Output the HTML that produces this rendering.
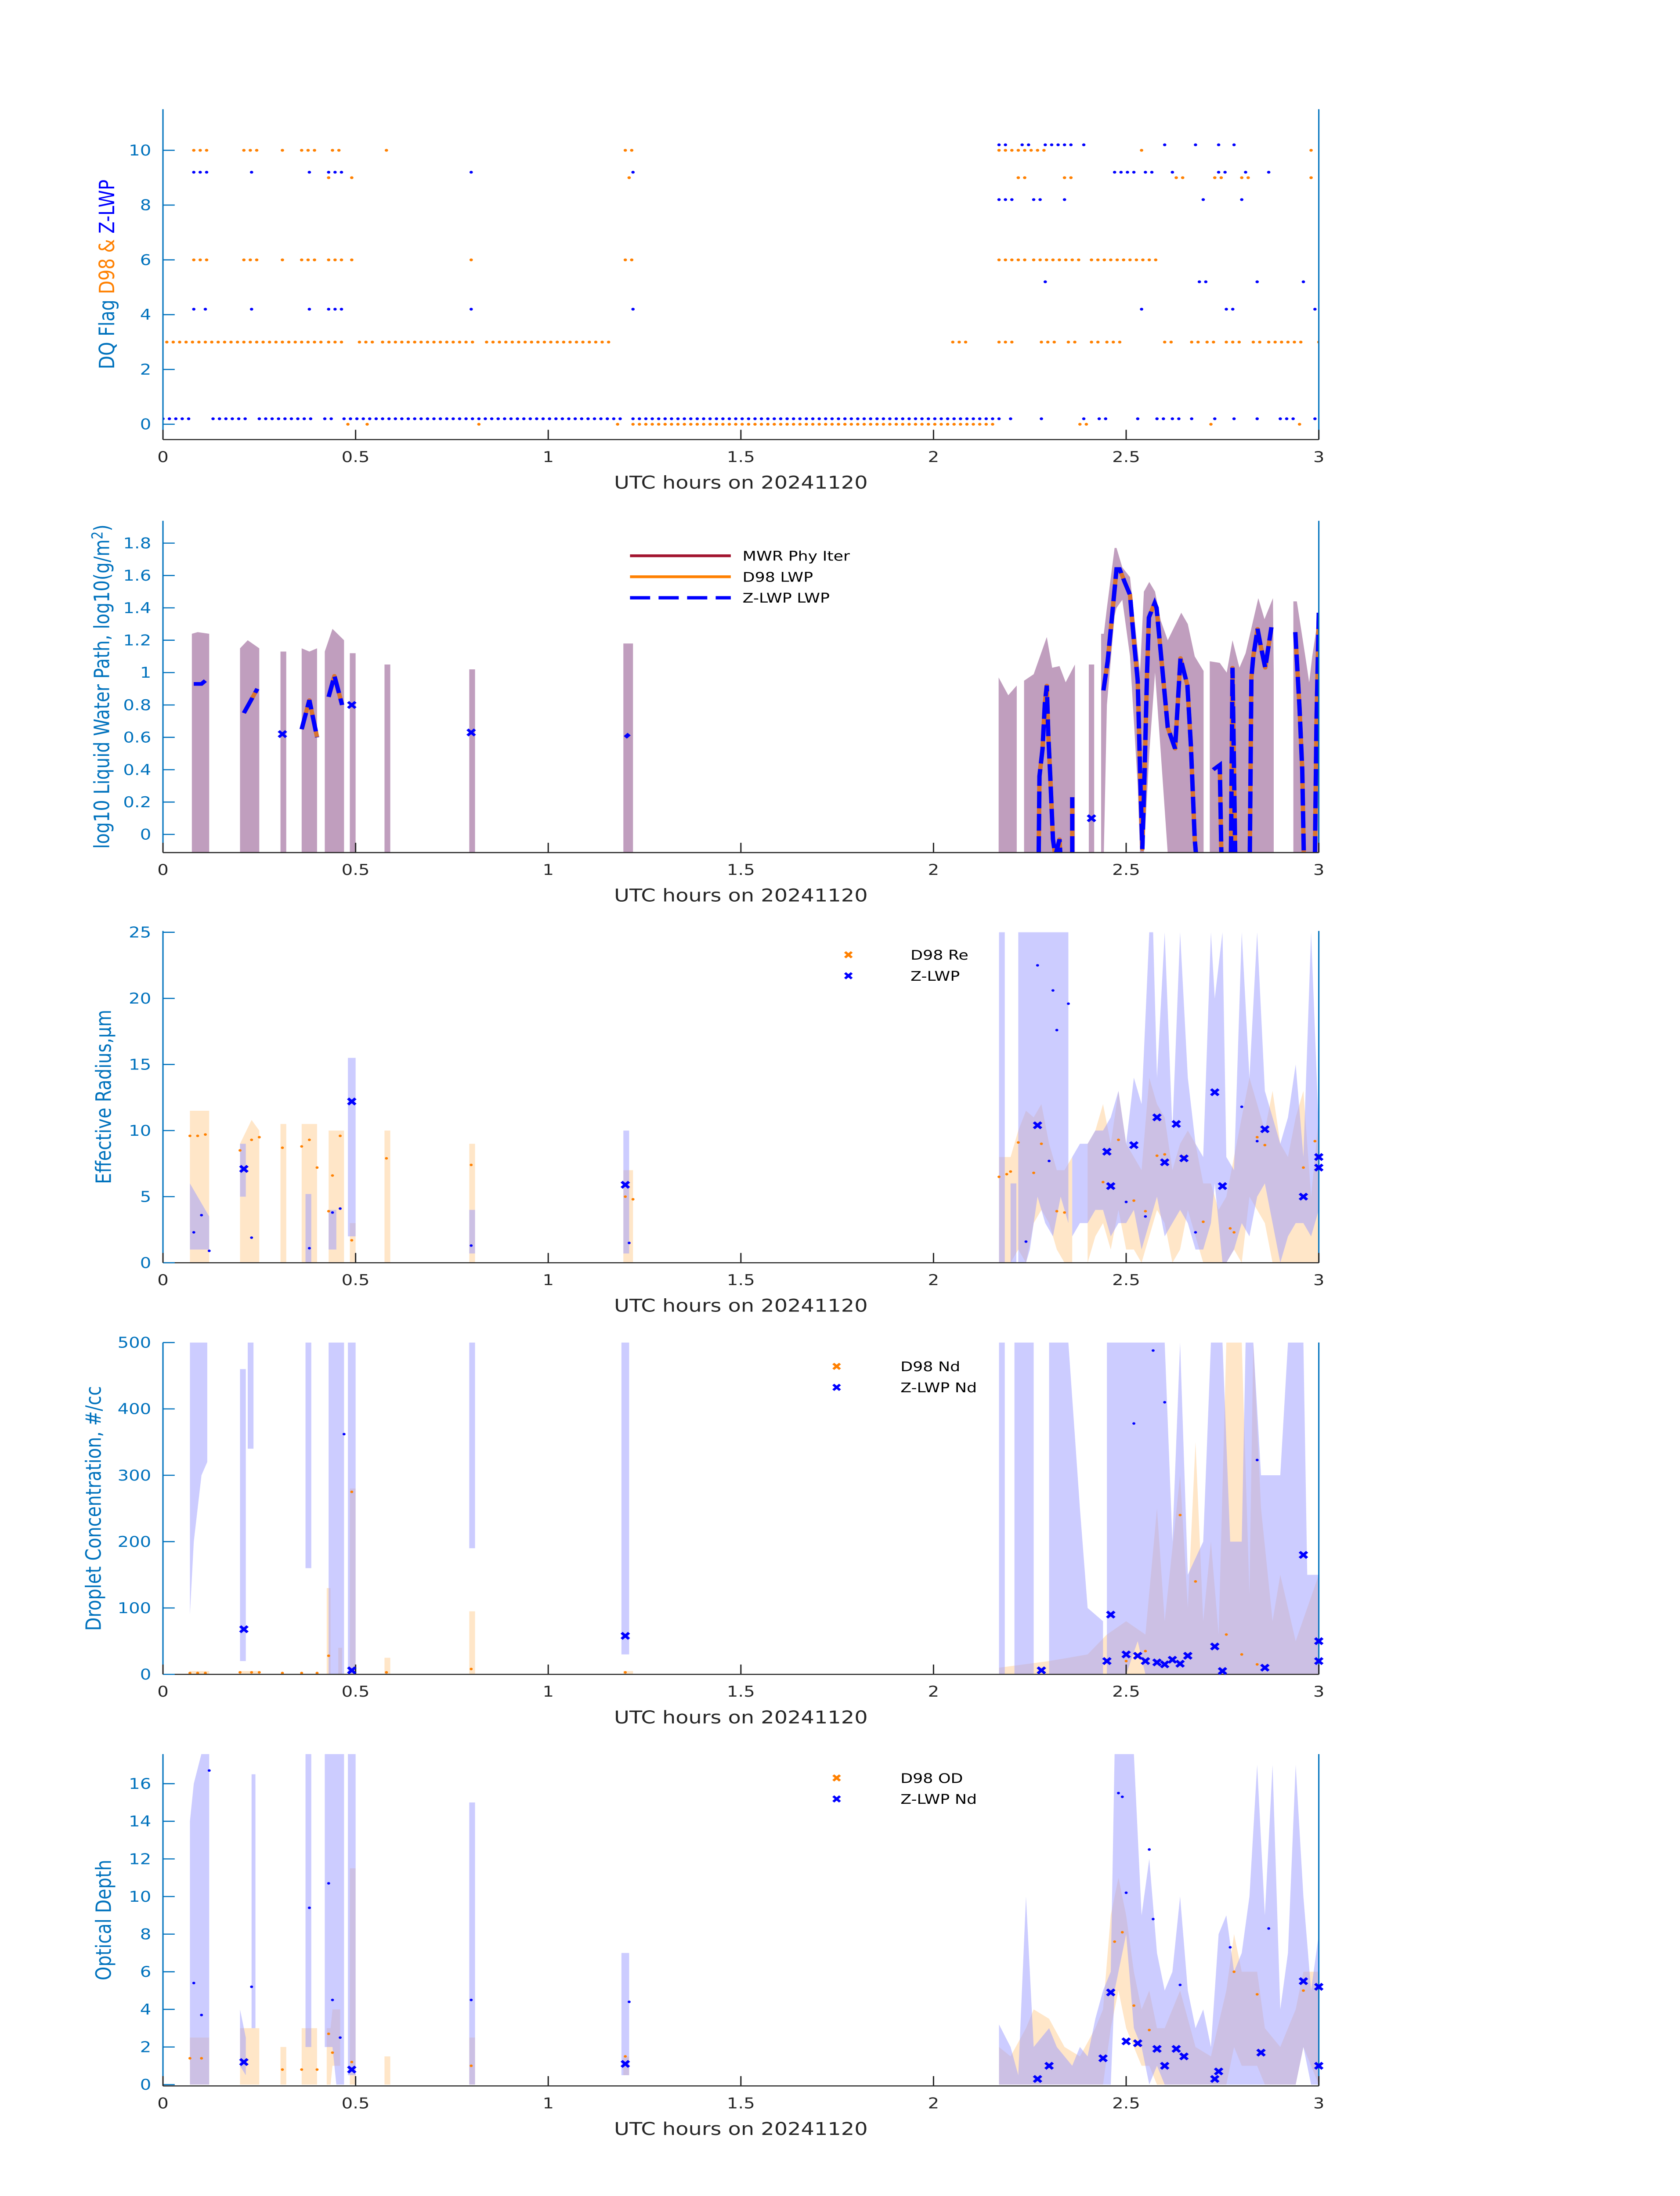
<!DOCTYPE html>
<html><head><meta charset="utf-8">
<style>
html,body{margin:0;padding:0;background:#fff;width:100%;height:100%;overflow:hidden;}
svg{display:block;width:100vw;height:100vh;font-family:"DejaVu Sans","Liberation Sans",sans-serif;}
</style></head>
<body>
<svg id="fig" viewBox="0 0 1000 1568.63" preserveAspectRatio="none" xmlns="http://www.w3.org/2000/svg">
<rect x="0" y="0" width="1000" height="1568.63" fill="#fff"/>
</svg>
<script>
// ---------- DATA ----------
const d98FlagRuns = [[0.01,0.41,3],[0.43,0.46,3],[0.51,0.54,3],[0.57,0.81,3],[0.84,1.16,3],
 [2.05,2.08,3],[2.17,2.21,3],[2.28,2.31,3],[2.35,2.37,3],[2.41,2.42,3],[2.45,2.49,3],[2.6,2.61,3],[2.67,2.69,3],[2.71,2.72,3],[2.76,2.8,3],[2.83,2.84,3],[2.87,2.96,3],[3.0,3.0,3],
 [0.48,0.48,0],[0.53,0.53,0],[0.82,0.82,0],[1.18,1.18,0],[1.22,2.16,0],[2.38,2.39,0],[2.72,2.72,0],[2.95,2.95,0],
 [0.08,0.11,10],[0.21,0.25,10],[0.31,0.31,10],[0.36,0.4,10],[0.44,0.46,10],[0.58,0.58,10],[1.2,1.21,10],[2.17,2.28,10],[2.54,2.54,10],[2.98,2.98,10],
 [0.43,0.43,9],[0.49,0.49,9],[1.21,1.21,9],[2.22,2.23,9],[2.34,2.35,9],[2.63,2.65,9],[2.73,2.75,9],[2.8,2.82,9],[2.98,2.98,9],
 [0.08,0.11,6],[0.21,0.25,6],[0.31,0.31,6],[0.36,0.4,6],[0.43,0.46,6],[0.49,0.49,6],[0.8,0.8,6],[1.2,1.21,6],[2.17,2.23,6],[2.26,2.38,6],[2.41,2.57,6]];
const zlwpFlagRuns = [[0.0,0.06,0.2],[0.13,0.22,0.2],[0.25,0.39,0.2],[0.42,0.44,0.2],[0.47,0.8,0.2],[0.82,1.18,0.2],[1.22,2.17,0.2],[2.2,2.2,0.2],[2.28,2.28,0.2],[2.39,2.39,0.2],[2.43,2.45,0.2],[2.53,2.53,0.2],[2.58,2.59,0.2],[2.62,2.64,0.2],[2.67,2.67,0.2],[2.73,2.73,0.2],[2.78,2.78,0.2],[2.84,2.84,0.2],[2.9,2.94,0.2],[2.99,3.0,0.2],
 [0.08,0.11,9.2],[0.23,0.23,9.2],[0.38,0.38,9.2],[0.43,0.46,9.2],[0.8,0.8,9.2],[1.22,1.22,9.2],[2.47,2.52,9.2],[2.55,2.57,9.2],[2.62,2.62,9.2],[2.74,2.76,9.2],[2.81,2.81,9.2],[2.87,2.87,9.2],
 [0.08,0.08,4.2],[0.11,0.11,4.2],[0.23,0.23,4.2],[0.38,0.38,4.2],[0.43,0.46,4.2],[0.8,0.8,4.2],[1.22,1.22,4.2],[2.54,2.54,4.2],[2.76,2.77,4.2],[2.99,2.99,4.2],
 [2.17,2.19,10.2],[2.23,2.24,10.2],[2.29,2.35,10.2],[2.39,2.39,10.2],[2.6,2.6,10.2],[2.68,2.68,10.2],[2.74,2.74,10.2],[2.78,2.78,10.2],
 [2.17,2.21,8.2],[2.26,2.28,8.2],[2.34,2.34,8.2],[2.7,2.7,8.2],[2.8,2.8,8.2],
 [2.29,2.29,5.2],[2.69,2.7,5.2],[2.84,2.84,5.2],[2.96,2.96,5.2]];

const lwpTimes = [0.08,0.10,0.11,null,0.21,0.245,null,0.36,0.38,0.40,null,0.43,0.445,0.465,null,1.2,1.21,null,
 2.273,2.275,2.283,2.289,2.294,2.298,2.303,2.310,2.315,null,2.318,2.327,2.329,null,2.360,2.360,null,
 2.441,2.452,2.463,2.475,2.483,2.496,2.510,2.520,2.530,2.536,2.542,2.548,2.554,2.559,2.574,2.579,2.590,2.601,2.608,2.627,2.641,2.659,2.668,2.678,2.681,null,
 2.726,2.743,2.747,null,2.772,2.776,2.779,2.783,null,2.821,2.825,2.830,2.841,2.848,2.861,2.877,null,2.939,2.950,2.957,2.961,null,2.990,2.994,3.0];
const lwpValues = [0.93,0.93,0.95,null,0.75,0.9,null,0.65,0.83,0.6,null,0.85,0.98,0.8,null,0.6,0.62,null,
 -0.115,0.36,0.53,0.81,0.92,0.61,0.36,-0.03,-0.115,null,-0.115,-0.03,-0.115,null,-0.115,0.23,null,
 0.89,1.07,1.34,1.64,1.64,1.56,1.48,1.20,0.95,0.40,-0.09,0.40,0.98,1.34,1.43,1.40,1.12,0.84,0.66,0.53,1.09,0.92,0.55,-0.03,-0.115,null,
 0.40,0.43,-0.115,null,-0.115,1.03,0.55,-0.115,null,-0.115,0.97,1.10,1.27,1.18,1.03,1.28,null,1.25,0.78,0.40,-0.115,null,-0.115,0.69,1.37];
const lwpMarkT = [0.31,0.49,0.80,2.41];
const lwpMarkV = [0.62,0.80,0.63,0.10];
const lwpBand = [[0.075,-0.12,1.24],[0.09,-0.12,1.25],[0.12,-0.12,1.24],null,[0.2,-0.12,1.15],[0.22,-0.12,1.2],[0.25,-0.12,1.15],null,
 [0.305,-0.12,1.13],[0.32,-0.12,1.13],null,[0.36,-0.12,1.15],[0.38,-0.12,1.13],[0.40,-0.12,1.15],null,[0.42,-0.12,1.13],[0.44,-0.12,1.27],[0.47,-0.12,1.2],null,
 [0.485,-0.12,1.12],[0.50,-0.12,1.12],null,[0.575,-0.12,1.05],[0.59,-0.12,1.05],null,[0.795,-0.12,1.02],[0.81,-0.12,1.02],null,[1.195,-0.12,1.18],[1.22,-0.12,1.18],null,
 [2.169,-0.12,0.97],[2.194,-0.12,0.86],[2.216,-0.12,0.92],null,
 [2.235,-0.12,0.95],[2.26,-0.12,0.99],[2.294,-0.12,1.22],[2.308,-0.12,1.03],[2.327,-0.12,1.04],[2.343,-0.12,0.94],[2.367,-0.12,1.05],null,
 [2.403,-0.12,1.05],[2.417,-0.12,1.05],null,
 [2.435,-0.12,1.24],[2.442,-0.12,1.24],[2.450,0.8,1.4],[2.47,1.35,1.77],[2.475,1.4,1.77],[2.49,1.45,1.65],[2.51,1.1,1.59],[2.53,0.3,1.14],[2.536,-0.12,1.0],[2.546,-0.12,1.5],[2.56,0.5,1.56],[2.575,1.0,1.5],[2.59,0.5,1.32],[2.608,-0.12,1.2],[2.643,-0.12,1.37],[2.66,-0.12,1.30],[2.678,-0.12,1.10],[2.701,-0.12,1.01],null,
 [2.717,-0.12,1.07],[2.743,-0.12,1.06],[2.761,-0.12,1.0],[2.776,-0.12,1.20],[2.794,-0.12,1.03],[2.810,-0.12,1.12],[2.843,-0.12,1.46],[2.859,-0.12,1.33],[2.881,-0.12,1.46],[2.883,-0.12,1.0],null,
 [2.934,-0.12,1.44],[2.943,-0.12,1.44],[2.965,-0.12,1.10],[2.975,-0.12,0.94],[2.983,-0.12,1.10],[3.0,-0.12,1.37]];

const reOrangeBand = [[0.07,0,11.5],[0.12,0,11.5],null,[0.2,0,9],[0.23,0,10.8],[0.25,0,10],null,[0.305,0,10.5],[0.32,0,10.5],null,[0.36,0,10.5],[0.40,0,10.5],null,[0.43,0,10],[0.47,0,10],null,[0.485,0,3],[0.50,0,3],null,[0.575,0,10],[0.59,0,10],null,[0.795,0,9],[0.81,0,9],null,[1.195,0,7],[1.22,0,7],null,
 [2.17,0,8],[2.2,0,8],[2.22,1,10],[2.24,0,11.5],[2.26,3,11],[2.28,4,12],[2.3,3,9],[2.32,1,7],[2.34,0,7],[2.36,0,8],null,[2.4,0,9],[2.42,2,10],[2.44,3,12],[2.46,1,9],[2.48,4,13],[2.5,1,9],[2.52,1,8],[2.54,0,7],[2.56,2,14],[2.58,4,12],[2.6,3,11],[2.62,0,7],[2.64,1,9],[2.66,4,10],[2.68,2,9],[2.7,0,6],[2.72,0,6],[2.74,0,4],[2.76,0,5],[2.78,1,8],[2.8,0,11],[2.82,5,14],[2.84,4,12],[2.86,3,10],[2.88,0,13],[2.9,0,9],[2.92,0,8],[2.94,0,11],[2.96,0,13],[2.98,0,5],[3.0,0,11]];
const reBlueBand = [[0.07,1,6],[0.12,1,3.5],null,[0.2,5,9],[0.215,5,9],null,[0.37,0,5.2],[0.385,0,5.2],null,[0.43,1,4],[0.45,1,4],null,[0.48,2,15.5],[0.50,2,15.5],null,[0.795,0.7,4],[0.81,0.7,4],null,[1.195,0.7,10],[1.21,0.7,10],null,
 [2.17,0,25],[2.185,0,25],null,[2.2,0,6],[2.215,0,6],null,[2.22,0,25],[2.24,0,25],[2.25,1,25],[2.27,5,25],[2.29,3,25],[2.31,2,25],[2.33,5,25],[2.35,3,25],null,
 [2.36,2,8],[2.38,3,9],[2.4,3,9],[2.42,4,10],[2.44,4,10],[2.46,2,11],[2.48,3,13],[2.5,3,9],[2.52,4,14],[2.54,1,12],[2.56,3,25],[2.57,4,25],[2.58,5,14],[2.6,2,25],[2.62,3,10],[2.64,4,25],[2.66,3,14],[2.68,1,9],[2.7,1,8],[2.72,3,25],[2.73,6,20],[2.75,0,25],[2.76,0,8],[2.78,1,7],[2.8,3,25],[2.82,2,14],[2.84,5,25],[2.86,6,13],[2.88,3,11],[2.9,0,9],[2.92,2,11],[2.94,3,15],[2.96,3,8],[2.98,2,25],[3.0,4,10]];
const reZT = [0.21,0.49,1.2,2.27,2.45,2.46,2.52,2.58,2.60,2.63,2.65,2.73,2.75,2.86,2.96,3.0,3.0];
const reZV = [7.1,12.2,5.9,10.4,8.4,5.8,8.9,11.0,7.6,10.5,7.9,12.9,5.8,10.1,5.0,7.2,8.0];
const reZdotT = [0.08,0.10,0.12,0.23,0.38,0.44,0.46,0.8,1.21,2.27,2.31,2.32,2.35,2.24,2.3,2.5,2.55,2.68,2.8,2.84];
const reZdotV = [2.3,3.6,0.9,1.9,1.1,3.8,4.1,1.3,1.5,22.5,20.6,17.6,19.6,1.6,7.7,4.6,3.5,2.3,11.8,9.2];
const reDT = [0.07,0.09,0.11,0.2,0.23,0.25,0.31,0.36,0.38,0.4,0.43,0.44,0.46,0.49,0.58,0.8,1.2,1.22,2.17,2.19,2.2,2.22,2.26,2.28,2.32,2.34,2.44,2.48,2.52,2.55,2.58,2.6,2.65,2.7,2.77,2.78,2.84,2.86,2.96,2.99];
const reDV = [9.6,9.6,9.7,8.5,9.3,9.5,8.7,8.8,9.3,7.2,3.9,6.6,9.6,1.7,7.9,7.4,5.0,4.8,6.5,6.7,6.9,9.1,6.8,9.0,3.9,3.8,6.1,9.3,4.7,3.9,8.1,8.2,8.0,3.1,2.6,2.3,9.5,8.9,7.2,9.2];

const ndOrangeBand = [[0.07,0,5],[0.12,0,5],null,[0.2,0,5],[0.25,0,5],null,[0.425,0,130],[0.435,0,130],null,[0.455,0,40],[0.465,0,40],null,[0.485,0,280],[0.50,0,280],null,[0.575,0,25],[0.59,0,25],null,[0.795,0,95],[0.81,0,95],null,[1.195,0,5],[1.22,0,5],null,
 [2.17,0,10],[2.3,0,20],[2.4,0,30],[2.45,0,60],[2.5,0,80],[2.55,0,60],[2.58,0,250],[2.6,0,80],[2.64,0,300],[2.66,0,100],[2.68,0,350],[2.7,0,80],[2.72,0,200],[2.74,0,60],[2.76,0,500],[2.8,0,500],[2.82,0,120],[2.83,0,500],[2.85,0,250],[2.88,0,80],[2.9,0,150],[2.94,0,50],[2.97,0,100],[3.0,0,150]];
const ndBlueBand = [[0.07,90,500],[0.08,200,500],[0.10,300,500],[0.115,320,500],null,[0.2,20,460],[0.215,20,460],null,[0.22,340,500],[0.235,340,500],null,[0.37,160,500],[0.385,160,500],null,[0.43,0,500],[0.47,0,500],null,[0.48,0,500],[0.50,0,500],null,[0.795,190,500],[0.81,190,500],null,[1.19,30,500],[1.21,30,500],null,
 [2.17,0,500],[2.185,0,500],null,[2.21,0,500],[2.26,0,500],null,[2.3,0,500],[2.35,0,500],[2.38,0,250],[2.4,0,100],[2.44,0,80],null,[2.45,0,500],[2.5,0,500],[2.53,50,500],[2.55,0,500],[2.57,0,500],[2.6,0,500],[2.62,0,200],[2.64,0,500],[2.66,0,150],[2.7,0,200],[2.72,0,500],[2.75,0,500],[2.77,0,200],[2.8,0,200],[2.81,0,500],[2.83,0,500],[2.85,0,300],[2.9,0,300],[2.92,0,500],[2.96,0,500],[2.97,0,150],[3.0,0,150]];
const ndZT = [0.21,0.49,1.2,2.28,2.45,2.46,2.5,2.53,2.55,2.58,2.6,2.62,2.64,2.66,2.73,2.75,2.86,2.96,3.0,3.0];
const ndZV = [68,6,58,6,20,90,30,28,20,18,15,22,16,28,42,5,10,180,50,20];
const ndZdotT = [0.47,2.52,2.57,2.6,2.84];
const ndZdotV = [362,378,488,410,323];
const ndDT = [0.07,0.09,0.11,0.2,0.23,0.25,0.31,0.36,0.4,0.43,0.49,0.58,0.8,1.2,2.5,2.55,2.64,2.68,2.76,2.8,2.84];
const ndDV = [2,2,2,3,3,3,2,2,2,28,275,3,8,3,20,35,240,140,60,30,15];

const odOrangeBand = [[0.07,0,2.5],[0.12,0,2.5],null,[0.2,0,3],[0.25,0,3],null,[0.305,0,2],[0.32,0,2],null,[0.36,0,3],[0.40,0,3],null,[0.425,0,3],[0.435,0,3],[0.44,1,4],[0.46,1,4],null,[0.485,0,11.5],[0.50,0,11.5],null,[0.575,0,1.5],[0.59,0,1.5],null,[0.795,0,2.5],[0.81,0,2.5],null,[1.195,0.5,1.5],[1.21,0.5,1.5],null,
 [2.17,0,2],[2.2,0,1.5],[2.24,0,3],[2.26,0,4],[2.3,0,3.5],[2.34,0,2],[2.38,0,1.5],[2.42,0,3],[2.44,0,4],[2.46,3,9],[2.48,5,11],[2.5,3,9],[2.52,2,6],[2.54,1,4],[2.56,1,5],[2.58,0,3],[2.6,0,3],[2.64,0,5],[2.68,0,2],[2.72,0,1.5],[2.76,0,5],[2.78,2,8],[2.8,1,6],[2.84,1,6],[2.86,0,3],[2.9,0,2],[2.94,0,4],[2.96,2,6],[3.0,0,6]];
const odBlueBand = [[0.07,0,14],[0.08,0,16],[0.1,0,17.6],[0.12,0,17.6],null,[0.2,1,4],[0.215,0.5,2.5],null,[0.23,3,16.5],[0.24,3,16.5],null,[0.37,2,17.6],[0.385,2,17.6],null,[0.42,2,17.6],[0.44,2,17.6],[0.45,0,17.6],[0.47,0,17.6],null,[0.48,0.5,17.6],[0.50,0.5,17.6],null,[0.795,0,15],[0.81,0,15],null,[1.19,0.5,7],[1.21,0.5,7],null,
 [2.17,0,3.2],[2.2,0,2],[2.22,0,0.5],[2.24,0,10],[2.26,0,2],[2.28,0,2.5],[2.3,0,3],[2.32,0,2],[2.34,0,1.5],[2.36,0,1],[2.38,0,2],[2.4,0,1.5],[2.42,0,3.5],[2.44,0,5],[2.46,0,6],[2.47,5,17.6],[2.5,8,17.6],[2.52,3,17.6],[2.54,2,9],[2.56,0,12],[2.58,1,7],[2.6,0,5],[2.62,0,6],[2.64,0,10],[2.66,0,5],[2.68,0,3],[2.7,0,4],[2.72,0,2],[2.74,0,8],[2.76,0,9],[2.78,0,6],[2.8,0,7],[2.82,0,10],[2.84,0,17],[2.86,0,9],[2.88,0,17],[2.9,0,4],[2.92,0,7],[2.94,0,17],[2.96,2,10],[2.98,0,5],[3.0,0,8]];
const odZT = [0.21,0.49,1.2,2.27,2.3,2.44,2.46,2.5,2.53,2.58,2.6,2.63,2.65,2.73,2.74,2.85,2.96,3.0,3.0];
const odZV = [1.2,0.8,1.1,0.3,1.0,1.4,4.9,2.3,2.2,1.9,1.0,1.9,1.5,0.3,0.7,1.7,5.5,5.2,1.0];
const odZdotT = [0.08,0.10,0.12,0.23,0.38,0.43,0.44,0.46,0.8,1.21,2.48,2.49,2.5,2.56,2.57,2.77,2.87,2.64];
const odZdotV = [5.4,3.7,16.7,5.2,9.4,10.7,4.5,2.5,4.5,4.4,15.5,15.3,10.2,12.5,8.8,7.3,8.3,5.3];
const odDT = [0.07,0.10,0.21,0.31,0.36,0.4,0.43,0.44,0.49,0.8,1.2,2.47,2.49,2.52,2.56,2.78,2.84,2.96];
const odDV = [1.4,1.4,1.2,0.8,0.8,0.8,2.7,1.7,1.2,1.0,1.5,7.6,8.1,4.2,2.9,6.0,4.8,5.0];

const xTicks = [0,0.5,1,1.5,2,2.5,3];
const xTickLabels = ["0","0.5","1","1.5","2","2.5","3"];

// ---------- DRAWING ----------
const NS = "http://www.w3.org/2000/svg";
const svg = document.getElementById('fig');
const X0 = 97, X1 = 785;
function xs(t){ return X0 + (t/3)*(X1-X0); }
function mk(tag, attrs, parent){
  const e = document.createElementNS(NS, tag);
  for (const k in attrs) e.setAttribute(k, attrs[k]);
  (parent||svg).appendChild(e);
  return e;
}
const BLUE_AX = "#0072BD";

function makePanel(name, top, bottom, ymin, ymax, ticks, tickLabels, ylabel){
  const ys = v => bottom - (v - ymin)/(ymax - ymin)*(bottom - top);
  const g = mk('g', {});
  
  
  const cp = mk('clipPath', {id: name+'-clip'}, g);
  mk('rect', {x:X0, y:top, width:X1-X0, height:bottom-top}, cp);
  const plot = mk('g', {'clip-path':'url(#'+name+'-clip)'}, g);
  
  
  const ax = mk('g', {}, g);
  
  
  const la = mk('line', {x1:X0, y1:top, x2:X0, y2:bottom, stroke:BLUE_AX, 'stroke-width':0.8}, ax);
  
  
  const ra = mk('line', {x1:X1, y1:top, x2:X1, y2:bottom, stroke:BLUE_AX, 'stroke-width':0.8}, ax);
  
  
  const xa = mk('line', {x1:X0, y1:bottom, x2:X1, y2:bottom, stroke:"#262626", 'stroke-width':0.8}, ax);
  
  
  ticks.forEach((v,i)=>{
    const y = ys(v);
    const tl = mk('line', {x1:X0, y1:y, x2:X0+7, y2:y, stroke:BLUE_AX, 'stroke-width':0.8}, ax);
    
    
    const tx = mk('text', {x:X0-7, y:y+3.7, 'text-anchor':'end', 'font-size':10.5, fill:BLUE_AX}, ax);
    
    
    tx.textContent = tickLabels[i];
  });
  xTicks.forEach((t,i)=>{
    const x = xs(t);
    const tl = mk('line', {x1:x, y1:bottom, x2:x, y2:bottom-7, stroke:"#262626", 'stroke-width':0.8}, ax);
    
    
    const tx = mk('text', {x:x, y:bottom+16, 'text-anchor':'middle', 'font-size':10.5, fill:"#262626"}, ax);
    
    
    tx.textContent = xTickLabels[i];
  });
  const xl = mk('text', {x:(X0+X1)/2, y:bottom+35, 'text-anchor':'middle', 'font-size':12.5, fill:"#262626"}, ax);
  
  
  xl.textContent = "UTC hours on 20241120";
  if (ylabel){
    const yl = mk('text', {x:0, y:0, 'text-anchor':'middle', 'font-size':12.5, fill:BLUE_AX,
      transform:'translate('+(ylabel.x)+','+((top+bottom)/2)+') rotate(-90)'}, ax);
    
    
    if (ylabel.html) yl.innerHTML = ylabel.html; else yl.textContent = ylabel.text;
  }
  return {ys, plot, g};
}

function bandPath(arr, ys){
  const segs = []; let cur = [];
  arr.forEach(p=>{ if (p===null){ if(cur.length) segs.push(cur); cur=[]; } else cur.push(p); });
  if (cur.length) segs.push(cur);
  return segs.map(s=>{
    let d = 'M' + s.map(p=>xs(p[0]).toFixed(2)+','+ys(p[2]).toFixed(2)).join('L');
    d += 'L' + s.slice().reverse().map(p=>xs(p[0]).toFixed(2)+','+ys(p[1]).toFixed(2)).join('L') + 'Z';
    return d;
  }).join(' ');
}
function drawBand(panel, arr, fill, op, name){
  const p = mk('path', {d: bandPath(arr, panel.ys), fill: fill, 'fill-opacity': op}, panel.plot);
  
  
}
function drawDots(panel, ts, vs, color, r, name){
  ts.forEach((t,i)=>{
    const c = mk('circle', {cx:xs(t), cy:panel.ys(vs[i]), r:r, fill:color}, panel.plot);
    
    
  });
}
function xMark(parent, x, y, s, color, w){
  const d = 'M'+(x-s)+','+(y-s)+'L'+(x+s)+','+(y+s)+'M'+(x-s)+','+(y+s)+'L'+(x+s)+','+(y-s);
  return mk('path', {d:d, stroke:color, 'stroke-width':w, fill:'none'}, parent);
}
function drawX(panel, ts, vs, color, name){
  ts.forEach((t,i)=>{
    const m = xMark(panel.g, xs(t), panel.ys(vs[i]), 2.2, color, 1.8);
    
    
  });
}
function expandRuns(runs){
  const t=[], v=[];
  runs.forEach(r=>{
    const n = Math.round((r[1]-r[0])*60);
    for (let i=0;i<=n;i++){ t.push(r[0]+i/60); v.push(r[2]); }
  });
  return [t,v];
}
function legendText(parent, x, y, s){
  const tx = mk('text', {x:x, y:y+3.5, 'font-size':9.5, fill:"#000"}, parent);
  
  
  tx.textContent = s;
}

const ORANGE = "#FF8000", ZBLUE = "#0000FF";

const p1 = makePanel('dq-flag-panel', 78, 314, -0.56, 11.5, [0,2,4,6,8,10], ["0","2","4","6","8","10"],
  {x:68, html:'<tspan fill="#0072BD">DQ Flag  </tspan><tspan fill="#FF8000">D98 &amp;  </tspan><tspan fill="#0000FF">Z-LWP</tspan>'});
const d98e = expandRuns(d98FlagRuns);
drawDots(p1, d98e[0], d98e[1], ORANGE, 1.0, 'd98-flag-point');
const zle = expandRuns(zlwpFlagRuns);
drawDots(p1, zle[0], zle[1], ZBLUE, 1.0, 'zlwp-flag-point');

const p2 = makePanel('lwp-panel', 372, 609, -0.112, 1.938, [0,0.2,0.4,0.6,0.8,1,1.2,1.4,1.6,1.8],
  ["0","0.2","0.4","0.6","0.8","1","1.2","1.4","1.6","1.8"],
  {x:65, html:'log10 Liquid Water Path, log10(g/m<tspan dy="-4" font-size="9">2</tspan><tspan dy="4">)</tspan>'});
drawBand(p2, lwpBand, "#C09EBE", 1, 'lwp-uncertainty-band');
function linePath(ts, vs, ys){
  let d = '', pen = false;
  ts.forEach((t,i)=>{
    if (t===null){ pen=false; return; }
    d += (pen?'L':'M') + xs(t).toFixed(2)+','+ys(vs[i]).toFixed(2); pen = true;
  });
  return d;
}
const lp = linePath(lwpTimes, lwpValues, p2.ys);
const l1 = mk('path', {d:lp, stroke:"#A2142F", 'stroke-width':2.2, fill:'none'}, p2.plot);


const l2 = mk('path', {d:lp, stroke:"#D9732E", 'stroke-width':2.6, fill:'none', 'stroke-linejoin':'round'}, p2.plot);


const l3 = mk('path', {d:lp, stroke:ZBLUE, 'stroke-width':2.6, fill:'none', 'stroke-dasharray':'12,4'}, p2.plot);


drawX(p2, lwpMarkT, lwpMarkV, ZBLUE, 'zlwp-lwp-marker');
const lg2 = mk('g', {});


[["MWR Phy Iter","#A2142F",null,397],["D98 LWP","#FF8000",null,412],["Z-LWP LWP",ZBLUE,"12,5",427]].forEach(e=>{
  const a = {x1:375, y1:e[3], x2:435, y2:e[3], stroke:e[1], 'stroke-width':e[2]?2.4:2};
  if (e[2]) a['stroke-dasharray']=e[2];
  const ln = mk('line', a, lg2);
  
  
  legendText(lg2, 442, e[3], e[0]);
});

const p3 = makePanel('effective-radius-panel', 665, 902, 0, 25.1, [0,5,10,15,20,25], ["0","5","10","15","20","25"],
  {x:66, html:'Effective Radius,<tspan font-family="DejaVu Sans">μ</tspan>m'});
drawBand(p3, reOrangeBand, "#FFCD91", 0.5, 're-d98-band');
drawBand(p3, reBlueBand, "#9999FF", 0.5, 're-zlwp-band');
drawDots(p3, reDT, reDV, ORANGE, 0.9, 're-d98-point');
drawDots(p3, reZdotT, reZdotV, ZBLUE, 0.9, 're-zlwp-point');
drawX(p3, reZT, reZV, ZBLUE, 're-zlwp-marker');

const p4 = makePanel('droplet-concentration-panel', 959, 1196, 0, 500, [0,100,200,300,400,500], ["0","100","200","300","400","500"],
  {x:60, text:'Droplet Concentration, #/cc'});
drawBand(p4, ndOrangeBand, "#FFCD91", 0.5, 'nd-d98-band');
drawBand(p4, ndBlueBand, "#9999FF", 0.5, 'nd-zlwp-band');
drawDots(p4, ndDT, ndDV, ORANGE, 0.9, 'nd-d98-point');
drawDots(p4, ndZdotT, ndZdotV, ZBLUE, 0.9, 'nd-zlwp-point');
drawX(p4, ndZT, ndZV, ZBLUE, 'nd-zlwp-marker');

const p5 = makePanel('optical-depth-panel', 1253, 1490, -0.07, 17.57, [0,2,4,6,8,10,12,14,16], ["0","2","4","6","8","10","12","14","16"],
  {x:66, text:'Optical Depth'});
drawBand(p5, odOrangeBand, "#FFCD91", 0.5, 'od-d98-band');
drawBand(p5, odBlueBand, "#9999FF", 0.5, 'od-zlwp-band');
drawDots(p5, odDT, odDV, ORANGE, 0.9, 'od-d98-point');
drawDots(p5, odZdotT, odZdotV, ZBLUE, 0.9, 'od-zlwp-point');
drawX(p5, odZT, odZV, ZBLUE, 'od-zlwp-marker');

function markerLegend(name, mx, tx, y1, l1t, l2t){
  const g = mk('g', {});
  
  
  const m1 = xMark(g, mx, y1, 2, ORANGE, 1.6);
  
  
  legendText(g, tx, y1, l1t);
  const m2 = xMark(g, mx, y1+15, 2, ZBLUE, 1.6);
  
  
  legendText(g, tx, y1+15, l2t);
}
markerLegend('re-legend', 505, 542, 682, 'D98 Re', 'Z-LWP');
markerLegend('nd-legend', 498, 536, 976, 'D98 Nd', 'Z-LWP Nd');
markerLegend('od-legend', 498, 536, 1270, 'D98 OD', 'Z-LWP Nd');
</script>
</body></html>
